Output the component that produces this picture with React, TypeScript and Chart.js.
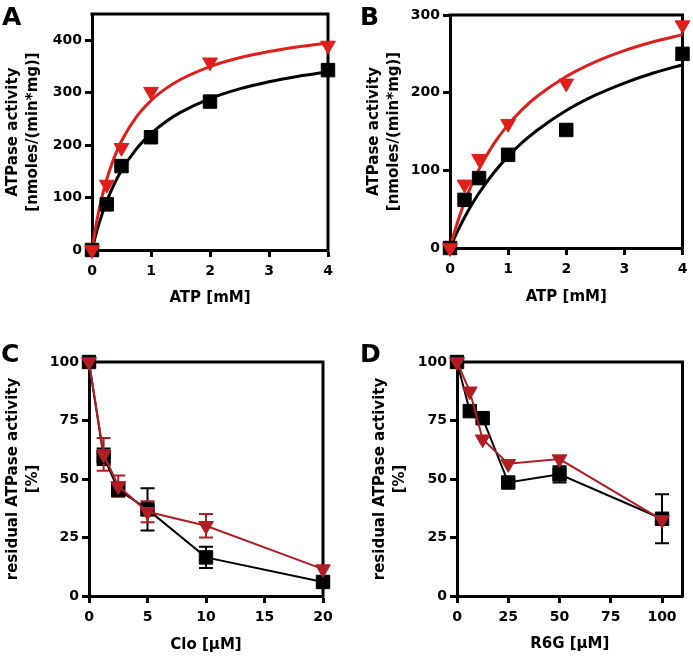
import React, { useEffect, useRef } from 'react';
import { Chart, registerables } from 'chart.js';

Chart.register(...registerables);

const FONT = '"DejaVu Sans", "Liberation Sans", sans-serif';
const RED_AB = '#de1f1c';
const RED_CD = '#b01e24';
const BLACK = '#000000';

// ---------- Panel A ----------
const atpConc = [0, 0.25, 0.5, 1, 2, 4];
const aBlackPts = [0, 87, 160, 215, 283, 343];
const aRedPts = [0, 125, 195, 302, 358, 390];
const fitConc = [0, 0.05, 0.1, 0.175, 0.25, 0.375, 0.5, 0.75, 1, 1.25, 1.5, 2, 2.5, 3, 3.5, 4];
const aBlackFit = [0, 22.7, 43, 69.8, 93, 125.4, 151.7, 192.4, 221.9, 244.7, 262.4, 288.7, 307.2, 320.9, 331.5, 339.8];
const aRedFit = [0, 35.4, 65.7, 103.6, 134.8, 176, 207.8, 253.5, 284.9, 307.7, 325.1, 349.8, 366.5, 378.6, 387.7, 394.8];
const aXTicks = [0, 1, 2, 3, 4];
const aYTicks = [0, 100, 200, 300, 400];

// ---------- Panel B ----------
const bBlackPts = [0, 62, 90, 120, 152, 250];
const bRedPts = [0, 82, 115, 160, 212, 287];
const bBlackFit = [0, 8.6, 16.9, 28.5, 39.3, 55.9, 70.8, 96.5, 118, 136.2, 151.7, 177, 196.7, 212.4, 225.3, 236];
const bRedFit = [0, 13.6, 26.2, 43.5, 59.1, 81.9, 101.6, 133.7, 158.8, 178.9, 195.4, 220.9, 239.7, 254.1, 265.5, 274.7];
const bXTicks = [0, 1, 2, 3, 4];
const bYTicks = [0, 100, 200, 300];

// ---------- Panel C ----------
const cloConc = [0, 1.25, 2.5, 5, 10, 20];
const cBlack = [100, 59.5, 45.5, 37, 16.5, 6];
const cBlackErr = [0, 3.5, 3, 9, 4.5, 0];
const cRed = [100, 60.5, 47, 36, 30, 11.5];
const cRedErr = [0, 7, 4.5, 4.5, 5, 0];
const cXTicks = [0, 5, 10, 15, 20];
const pctTicks = [0, 25, 50, 75, 100];

// ---------- Panel D ----------
const r6gConc = [0, 6.25, 12.5, 25, 50, 100];
const dBlack = [100, 79, 76, 48.5, 52, 33];
const dBlackErr = [0, 0, 0, 0, 3.5, 10.5];
const dRed = [100, 87.5, 67, 56.5, 58.5, 32.5];
const dRedErr = [0, 0, 0, 0, 0, 0];
const dXTicks = [0, 25, 50, 75, 100];

const pts = (xs: number[], ys: number[]) => xs.map((x, i) => ({ x, y: ys[i] }));

const markerSet = (xs: number[], ys: number[], kind: 'square' | 'tri', color: string, line: boolean) => ({
  data: pts(xs, ys),
  showLine: line,
  borderColor: color,
  borderWidth: 2,
  backgroundColor: color,
  pointStyle: kind === 'square' ? 'rect' : 'triangle',
  rotation: kind === 'square' ? 0 : 180,
  pointRadius: kind === 'square' ? 9.5 : 8.5,
  pointBorderWidth: 1,
  pointBorderColor: color,
  pointBackgroundColor: color,
  clip: false,
});

const fitSet = (xs: number[], ys: number[], color: string) => ({
  data: pts(xs, ys),
  showLine: true,
  borderColor: color,
  borderWidth: 3,
  pointRadius: 0,
  cubicInterpolationMode: 'monotone',
  clip: false,
});

type Rect = { left: number; top: number; width: number; height: number };
type Area = { left: number; right: number; top: number; bottom: number };

interface PanelDef {
  letter: string;
  letterPos: [number, number];
  canvas: Rect;
  area: Area;
  xMin: number;
  xMax: number;
  yMin: number;
  yMax: number;
  xTicks: number[];
  yTicks: number[];
  xTitle: string;
  yTitle: string[];
  xTitleY: number;
  yTitleX: number;
  datasets: any[];
  errorBars: { xs: number[]; ys: number[]; errs: number[]; color: string }[];
}

const panels: PanelDef[] = [
  {
    letter: 'A',
    letterPos: [2, 25],
    canvas: { left: 0, top: 0, width: 346, height: 320 },
    area: { left: 92, right: 328, top: 14, bottom: 250 },
    xMin: 0, xMax: 4, yMin: 0, yMax: 450,
    xTicks: aXTicks, yTicks: aYTicks,
    xTitle: 'ATP [mM]',
    yTitle: ['ATPase activity', '[nmoles/(min*mg)]'],
    xTitleY: 298, yTitleX: 13,
    datasets: [
      markerSet(atpConc, aRedPts, 'tri', RED_AB, false),
      markerSet(atpConc, aBlackPts, 'square', BLACK, false),
      fitSet(fitConc, aRedFit, RED_AB),
      fitSet(fitConc, aBlackFit, BLACK),
    ],
    errorBars: [],
  },
  {
    letter: 'B',
    letterPos: [360, 25],
    canvas: { left: 346, top: 0, width: 347, height: 320 },
    area: { left: 450, right: 684, top: 15, bottom: 248 },
    xMin: 0, xMax: 4, yMin: 0, yMax: 300,
    xTicks: bXTicks, yTicks: bYTicks,
    xTitle: 'ATP [mM]',
    yTitle: ['ATPase activity', '[nmoles/(min*mg)]'],
    xTitleY: 297, yTitleX: 374,
    datasets: [
      markerSet(atpConc, bRedPts, 'tri', RED_AB, false),
      markerSet(atpConc, bBlackPts, 'square', BLACK, false),
      fitSet(fitConc, bRedFit, RED_AB),
      fitSet(fitConc, bBlackFit, BLACK),
    ],
    errorBars: [],
  },
  {
    letter: 'C',
    letterPos: [1, 362],
    canvas: { left: 0, top: 320, width: 346, height: 336 },
    area: { left: 89, right: 323, top: 362, bottom: 596 },
    xMin: 0, xMax: 20, yMin: 0, yMax: 100,
    xTicks: cXTicks, yTicks: pctTicks,
    xTitle: 'Clo [\u03bcM]',
    yTitle: ['residual ATPase activity', '[%]'],
    xTitleY: 645, yTitleX: 13,
    datasets: [
      markerSet(cloConc, cRed, 'tri', RED_CD, true),
      markerSet(cloConc, cBlack, 'square', BLACK, true),
    ],
    errorBars: [
      { xs: cloConc, ys: cBlack, errs: cBlackErr, color: BLACK },
      { xs: cloConc, ys: cRed, errs: cRedErr, color: RED_CD },
    ],
  },
  {
    letter: 'D',
    letterPos: [360, 362],
    canvas: { left: 346, top: 320, width: 347, height: 336 },
    area: { left: 457, right: 691, top: 362, bottom: 596 },
    xMin: 0, xMax: 110, yMin: 0, yMax: 100,
    xTicks: dXTicks, yTicks: pctTicks,
    xTitle: 'R6G [\u03bcM]',
    yTitle: ['residual ATPase activity', '[%]'],
    xTitleY: 644, yTitleX: 380,
    datasets: [
      markerSet(r6gConc, dRed, 'tri', RED_CD, true),
      markerSet(r6gConc, dBlack, 'square', BLACK, true),
    ],
    errorBars: [
      { xs: r6gConc, ys: dBlack, errs: dBlackErr, color: BLACK },
      { xs: r6gConc, ys: dRed, errs: dRedErr, color: RED_CD },
    ],
  },
];

const framePlugin = {
  id: 'frame',
  beforeDatasetsDraw(chart: any, _args: any, opts: any) {
    const { ctx, chartArea: a } = chart;
    ctx.save();
    ctx.strokeStyle = '#000';
    ctx.lineWidth = 3;
    ctx.lineCap = 'butt';
    ctx.beginPath();
    ctx.moveTo(a.left - 1.5, a.top);
    ctx.lineTo(a.right, a.top);
    ctx.lineTo(a.right, a.bottom + 1.5);
    ctx.stroke();
    const xs = chart.scales.x;
    const ys = chart.scales.y;
    const bars = opts.errorBars || [];
    for (const eb of bars) {
      ctx.strokeStyle = eb.color;
      ctx.lineWidth = 2;
      for (let i = 0; i < eb.xs.length; i++) {
        const e = eb.errs[i];
        if (!e) continue;
        const px = xs.getPixelForValue(eb.xs[i]);
        const top = ys.getPixelForValue(eb.ys[i] + e);
        const bot = ys.getPixelForValue(eb.ys[i] - e);
        ctx.beginPath();
        ctx.moveTo(px, top);
        ctx.lineTo(px, bot);
        ctx.moveTo(px - 7, top);
        ctx.lineTo(px + 7, top);
        ctx.moveTo(px - 7, bot);
        ctx.lineTo(px + 7, bot);
        ctx.stroke();
      }
    }
    ctx.restore();
  },
  afterDraw(chart: any, _args: any, opts: any) {
    const { ctx } = chart;
    ctx.save();
    ctx.fillStyle = '#000';
    ctx.font = `bold 25px ${FONT}`;
    ctx.textBaseline = 'alphabetic';
    ctx.textAlign = 'left';
    ctx.fillText(opts.letter, opts.lx, opts.ly);
    ctx.restore();
  },
};

const TITLE_SIZE = 15;
const TITLE_LH = 20;
const TICK_LEN = 7;

function buildConfig(p: PanelDef): any {
  const c = p.canvas;
  const a = p.area;
  const yw = a.left - c.left;
  const padR = c.left + c.width - a.right;
  const padT = a.top - c.top;
  const xh = c.top + c.height - a.bottom;
  const tickFont = { family: FONT, size: 14, weight: 'bold' as const, lineHeight: 1.2 };
  const titleFont = { family: FONT, size: TITLE_SIZE, weight: 'bold' as const, lineHeight: TITLE_LH / TITLE_SIZE };
  const grid = {
    display: true,
    drawOnChartArea: false,
    drawTicks: true,
    tickLength: TICK_LEN,
    tickWidth: 3,
    tickColor: '#000',
    color: '#000',
  };
  const border = { display: true, width: 3, color: '#000' };
  return {
    type: 'scatter',
    data: { datasets: p.datasets },
    plugins: [framePlugin],
    options: {
      responsive: false,
      animation: false,
      devicePixelRatio: 1,
      events: [],
      layout: { padding: { left: 0, right: padR, top: padT, bottom: 0 } },
      plugins: {
        legend: { display: false },
        tooltip: { enabled: false },
        frame: {
          letter: p.letter,
          lx: p.letterPos[0] - c.left,
          ly: p.letterPos[1] - c.top,
          errorBars: p.errorBars,
        },
      },
      scales: {
        x: {
          type: 'linear',
          min: p.xMin,
          max: p.xMax,
          afterFit: (s: any) => { s.height = xh; s.paddingLeft = 0; s.paddingRight = 0; },
          afterBuildTicks: (s: any) => { s.ticks = p.xTicks.map((v) => ({ value: v })); },
          ticks: { font: tickFont, color: '#000', padding: 6, maxRotation: 0, autoSkip: false },
          grid,
          border,
          title: {
            display: true,
            text: p.xTitle,
            font: titleFont,
            color: '#000',
            padding: { top: 0, bottom: c.top + c.height - p.xTitleY - TITLE_LH / 2 },
          },
        },
        y: {
          type: 'linear',
          min: p.yMin,
          max: p.yMax,
          afterFit: (s: any) => { s.width = yw; s.paddingTop = 0; s.paddingBottom = 0; },
          afterBuildTicks: (s: any) => { s.ticks = p.yTicks.map((v) => ({ value: v })); },
          ticks: { font: tickFont, color: '#000', padding: 3, autoSkip: false },
          grid,
          border,
          title: {
            display: true,
            text: p.yTitle,
            font: titleFont,
            color: '#000',
            padding: { top: p.yTitleX - c.left - TITLE_LH / 2, bottom: 0 },
          },
        },
      },
    },
  };
}

function PanelChart({ panel }: { panel: PanelDef }) {
  const ref = useRef<HTMLCanvasElement>(null);
  useEffect(() => {
    if (!ref.current) return;
    const chart = new Chart(ref.current, buildConfig(panel));
    return () => chart.destroy();
  }, [panel]);
  const c = panel.canvas;
  return (
    <canvas
      ref={ref}
      width={c.width}
      height={c.height}
      style={{ position: 'absolute', left: c.left, top: c.top, width: c.width, height: c.height }}
    />
  );
}

export default function App() {
  return (
    <div style={{ position: 'absolute', left: 0, top: 0, width: 693, height: 656, background: '#fff', overflow: 'hidden' }}>
      {panels.map((p) => (
        <PanelChart key={p.letter} panel={p} />
      ))}
    </div>
  );
}
